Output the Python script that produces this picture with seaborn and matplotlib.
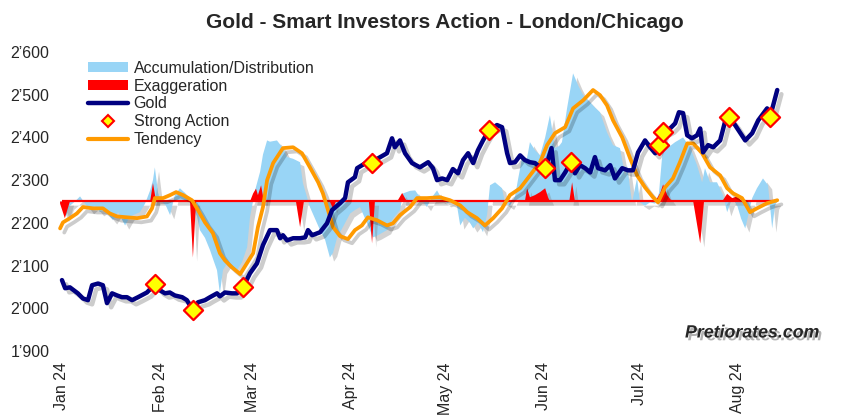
import numpy as np
import pandas as pd
import matplotlib
matplotlib.use("Agg")
import matplotlib.pyplot as plt
import matplotlib.dates as mdates
import matplotlib.patheffects as pe
from matplotlib.patches import Patch
from matplotlib.lines import Line2D
from matplotlib.ticker import FuncFormatter
import seaborn as sns

# ---------------- data (days since 2024-01-01, price level) ----------------
START = "2024-01-01"
BASELINE = 2250

gold_day = [0, 1, 2.5, 5, 6.6, 8.2, 9.5, 11.4, 12.9, 14.2,
            15.8, 17.4, 18.9, 20.5, 22.1, 24, 26.8, 28.4, 29.3, 30.9,
            32.5, 34, 35.6, 37.9, 39.4, 41.3, 42.9, 45.1, 46.7, 48.9,
            49.8, 51.4, 53.6, 55.2, 57.1, 59.3, 61.5, 63.4, 65.6, 67.8,
            68.8, 69.7, 71, 72.9, 75.1, 76.7, 77.6, 78.9, 81.4, 83.6,
            85.2, 87.7, 89.3, 90.2, 92.4, 93.1, 96.2, 97.8, 99.7, 102.5,
            104.1, 105, 106.6, 108.2, 110.4, 112.9, 115.5, 117, 118.3, 119.9,
            121.5, 123.3, 124.9, 126.5, 128.1, 129.7, 131.2, 132.8, 134.7, 137.2,
            138.8, 140.4, 141.3, 142.9, 144.5, 146, 147.6, 149.2, 150.8, 152.5,
            154.4, 155.5, 157.1, 158.7, 160.6, 161.8, 163.4, 165, 166.6, 168.1,
            169.1, 171.3, 172.9, 174.4, 176.7, 178.5, 180.1, 181.7, 183.9, 185.5,
            187.1, 188.3, 189.6, 191.8, 193.4, 194.6, 195.9, 197.2, 198.7, 200.3,
            201.3, 202.2, 203.8, 205.4, 207.6, 209.1, 210.4, 212.3, 215.5, 217.7,
            219.6, 222.4, 223.3, 225.6]
gold_value = [2066, 2047, 2049, 2035, 2023, 2019, 2054, 2058, 2054, 2012,
              2035, 2030, 2026, 2026, 2019, 2026, 2037, 2049, 2056, 2042,
              2035, 2037, 2030, 2026, 2019, 1995, 2014, 2019, 2026, 2035,
              2028, 2037, 2035, 2035, 2049, 2082, 2105, 2148, 2183, 2183,
              2164, 2171, 2159, 2164, 2164, 2166, 2183, 2171, 2178, 2199,
              2230, 2246, 2258, 2295, 2307, 2328, 2342, 2340, 2351, 2363,
              2398, 2377, 2393, 2363, 2340, 2330, 2342, 2328, 2300, 2304,
              2300, 2326, 2316, 2347, 2363, 2340, 2370, 2393, 2417, 2429,
              2424, 2363, 2340, 2342, 2358, 2347, 2342, 2340, 2330, 2328,
              2375, 2300, 2300, 2318, 2342, 2316, 2335, 2328, 2318, 2354,
              2328, 2323, 2335, 2304, 2328, 2323, 2323, 2365, 2393, 2377,
              2363, 2382, 2412, 2421, 2433, 2459, 2457, 2405, 2398, 2405,
              2421, 2365, 2382, 2377, 2393, 2436, 2447, 2429, 2393, 2410,
              2440, 2468, 2447, 2511]

strong_day = [29.3, 41.3, 57.1, 97.8, 134.7, 152.5, 160.6, 188.3, 189.6, 210.4, 223.3]
strong_value = [2056, 1995, 2049, 2340, 2417, 2328, 2342, 2382, 2412, 2447, 2447]

tend_day = [-0.6, 0.3, 2.5, 4.7, 6.6, 9.8, 12.9, 15.1, 17.4, 20.5,
            23.7, 26.8, 28.4, 29.3, 31.9, 34.1, 36, 38.2, 41, 42.9,
            45.1, 47.6, 49.8, 51.4, 53.6, 56.2, 60.3, 61.8, 63.4, 64.7,
            66.6, 69.7, 72.9, 75.7, 78.2, 80.8, 82.3, 83.9, 85.5, 87.7,
            90.2, 92.4, 94.6, 96.5, 99.4, 102.5, 104.4, 106.6, 109.8, 112,
            115.1, 119.2, 122.4, 125.6, 127.8, 130.9, 133.4, 136, 138.8, 141.3,
            144.5, 147.6, 150.8, 153, 155.5, 158.7, 161.2, 164.4, 167.5, 169.7,
            171.9, 173.8, 176.7, 179.2, 181.4, 183.9, 186.4, 188, 190.2, 192.7,
            194.9, 197.2, 199.1, 201.9, 204.4, 207.6, 209.8, 211.7, 214.5, 217,
            219.2, 222.4, 225.6]
tend_value = [2187, 2201, 2211, 2222, 2237, 2234, 2234, 2222, 2215, 2213,
              2211, 2215, 2234, 2258, 2258, 2265, 2272, 2265, 2253, 2230,
              2201, 2176, 2129, 2112, 2096, 2080, 2129, 2190, 2237, 2300,
              2340, 2375, 2377, 2363, 2330, 2295, 2269, 2230, 2190, 2169,
              2162, 2183, 2194, 2213, 2206, 2194, 2199, 2218, 2237, 2258,
              2258, 2260, 2253, 2241, 2225, 2211, 2194, 2211, 2234, 2265,
              2281, 2311, 2342, 2382, 2410, 2424, 2468, 2487, 2511, 2499,
              2475, 2440, 2400, 2351, 2311, 2283, 2260, 2248, 2283, 2304,
              2342, 2386, 2386, 2363, 2330, 2311, 2281, 2269, 2258, 2225,
              2234, 2246, 2253]

accum_day = [-0.6, 0.3, 1.3, 2.5, 4.1, 5.7, 7.3, 8.8, 10.4, 12,
             13.6, 15.1, 16.1, 17.7, 19.9, 21.5, 23, 24.6, 26.2, 27.8,
             28.7, 29.3, 30.3, 31.5, 32.8, 34.1, 35.6, 37.2, 38.8, 40.4,
             41.3, 42.6, 43.5, 45.1, 46.7, 47.9, 48.9, 49.8, 50.8, 52.1,
             53.6, 55.2, 56.8, 58.4, 59.3, 60.9, 62.5, 63.4, 64.7, 65.6,
             67.8, 69.7, 71, 72.9, 75.1, 76, 78.2, 79.8, 81.4, 83,
             84.5, 85.5, 86.8, 88.6, 90.9, 92.4, 94, 95.6, 98.1, 99.4,
             102.5, 104.4, 106.6, 107.6, 109.8, 111.4, 112.9, 115.1, 116.7, 118.3,
             119.9, 121.5, 123, 124.6, 125.6, 127.1, 128.7, 129.7, 131.2, 132.8,
             134.1, 135, 136.6, 138.8, 139.7, 141.3, 142.9, 143.8, 145.1, 146.4,
             147.6, 149.2, 150.8, 152.4, 153.9, 155.5, 156.8, 157.7, 159.3, 161.2,
             162.8, 164.4, 166.6, 168.1, 169.7, 171.9, 173.8, 176, 177.6, 178.2,
             179.8, 181.4, 182.3, 183.9, 185.5, 187.1, 188.3, 189.6, 191.8, 193.4,
             195.9, 198.1, 200.3, 201.9, 202.8, 204.4, 206.6, 208.5, 209.8, 211.4,
             213, 214.2, 215.5, 217.7, 219.2, 221.1, 222.7, 224, 224.9, 225.6]
accum_value = [2250, 2235, 2215, 2240, 2250, 2262, 2245, 2230, 2240, 2225,
               2232, 2215, 2206, 2225, 2194, 2215, 2220, 2225, 2245, 2276,
               2300, 2330, 2270, 2250, 2240, 2218, 2265, 2281, 2270, 2255,
               2235, 2215, 2183, 2165, 2136, 2110, 2089, 2035, 2090, 2105,
               2100, 2089, 2108, 2143, 2213, 2276, 2320, 2360, 2393, 2390,
               2393, 2375, 2354, 2350, 2342, 2293, 2237, 2210, 2183, 2160,
               2119, 2130, 2166, 2190, 2222, 2230, 2237, 2210, 2166, 2170,
               2183, 2210, 2230, 2269, 2275, 2276, 2260, 2237, 2260, 2276,
               2255, 2246, 2250, 2240, 2194, 2212, 2200, 2187, 2201, 2178,
               2220, 2288, 2295, 2281, 2248, 2240, 2262, 2300, 2351, 2340,
               2389, 2370, 2358, 2400, 2452, 2375, 2380, 2389, 2468, 2550,
               2522, 2499, 2482, 2470, 2459, 2412, 2382, 2375, 2311, 2335,
               2248, 2305, 2248, 2240, 2248, 2245, 2270, 2382, 2380, 2389,
               2400, 2377, 2335, 2295, 2328, 2295, 2295, 2265, 2225, 2258,
               2240, 2210, 2187, 2258, 2281, 2304, 2288, 2187, 2241, 2250]

exag_day = [-0.6, 0.9, 2.5, 27.8, 28.7, 29.7, 40.4, 41.3, 42.3, 59.3,
            60.3, 61.2, 61.8, 62.8, 63.7, 73.8, 75.1, 76.3, 84.5, 85.5,
            86.4, 96.8, 97.8, 98.7, 105.7, 107.3, 108.8, 146, 146.7, 147.6,
            149.2, 150.8, 152.4, 153.3, 153.9, 160, 160.9, 161.8, 187.1, 188.7,
            189.6, 190.9, 192.4, 199.1, 201.3, 202.5, 208.2, 209.8, 211.4, 213,
            214.5, 225.6]
exag_value = [2245, 2211, 2250, 2250, 2293, 2250, 2250, 2119, 2250, 2250,
              2269, 2280, 2265, 2288, 2250, 2250, 2190, 2250, 2250, 2232,
              2250, 2250, 2152, 2250, 2250, 2270, 2250, 2250, 2281, 2260,
              2265, 2272, 2281, 2260, 2250, 2250, 2295, 2250, 2250, 2270,
              2290, 2265, 2250, 2250, 2152, 2250, 2250, 2268, 2258, 2262,
              2250, 2250]

y_ticks = [1900, 2000, 2100, 2200, 2300, 2400, 2500, 2600]
title = "Gold - Smart Investors Action - London/Chicago"
legend_labels = ["Accumulation/Distribution", "Exaggeration", "Gold", "Strong Action", "Tendency"]

# ---------------- styling ----------------
C_BLUE = "#99d5f6"
C_RED = "#ff0000"
C_NAVY = "#000080"
C_ORANGE = "#ff9a00"
C_YELLOW = "#ffff00"

sns.set_style("white")
plt.rcParams["font.family"] = ["Liberation Sans", "DejaVu Sans"]

def to_dates(days):
    return pd.Timestamp(START) + pd.to_timedelta(np.asarray(days, dtype=float), unit="D")

gold_x = to_dates(gold_day)
strong_x = to_dates(strong_day)
tend_x = to_dates(tend_day)
accum_x = to_dates(accum_day)
exag_x = to_dates(exag_day)

W, H = 847, 418
fig = plt.figure(figsize=(W / 100, H / 100), dpi=100)
fig.patch.set_facecolor("white")
ax = fig.add_axes([55 / W, (H - 351) / H, 779 / W, 299 / H])

line_shadow = [pe.SimpleLineShadow(offset=(3, -3), shadow_color="black", alpha=0.2), pe.Normal()]
patch_shadow = [pe.SimplePatchShadow(offset=(3, -3), shadow_rgbFace="gray", alpha=0.35), pe.Normal()]

fb = ax.fill_between(accum_x, BASELINE, accum_value, color=C_BLUE, linewidth=0, zorder=1)
fb.set_path_effects(patch_shadow)
fr = ax.fill_between(exag_x, BASELINE, exag_value, color=C_RED, linewidth=0, zorder=2)
fr.set_path_effects(patch_shadow)

ax.hlines(BASELINE, gold_x[0], gold_x[-1], color=C_RED, linewidth=1.6, zorder=3)

sns.lineplot(x=tend_x, y=tend_value, ax=ax, color=C_ORANGE, linewidth=2.7, zorder=4,
             path_effects=line_shadow)
sns.lineplot(x=gold_x, y=gold_value, ax=ax, color=C_NAVY, linewidth=3.2, zorder=5,
             path_effects=line_shadow)
sns.scatterplot(x=strong_x, y=strong_value, ax=ax, marker="D", s=95, color=C_YELLOW,
                edgecolor=C_RED, linewidth=1.6, zorder=6)

# axes
ax.set_xlim(pd.Timestamp(START) - pd.Timedelta(days=2.2), pd.Timestamp(START) + pd.Timedelta(days=243.5))
ax.set_ylim(y_ticks[0], y_ticks[-1])
ax.set_yticks(y_ticks)
ax.yaxis.set_major_formatter(FuncFormatter(lambda v, p: f"{int(v) // 1000}\u2019{int(v) % 1000:03d}"))
ax.xaxis.set_major_locator(mdates.MonthLocator())
ax.xaxis.set_major_formatter(mdates.DateFormatter("%b %y"))
ax.tick_params(axis="x", length=0, pad=8, labelsize=11.5, labelrotation=90)
ax.tick_params(axis="y", length=0, pad=4, labelsize=11.5)
for s in ax.spines.values():
    s.set_visible(False)
ax.set_xlabel("")
ax.set_ylabel("")
ax.grid(False)

# legend
handles = [
    Patch(facecolor=C_BLUE, edgecolor="none"),
    Patch(facecolor=C_RED, edgecolor="none"),
    Line2D([], [], color=C_NAVY, linewidth=3.2),
    Line2D([], [], linestyle="none", marker="D", markersize=6.5, markerfacecolor=C_YELLOW,
           markeredgecolor=C_RED, markeredgewidth=1.5),
    Line2D([], [], color=C_ORANGE, linewidth=3.0),
]
leg = fig.legend(handles, legend_labels, loc="upper left", bbox_to_anchor=(88 / W, 1 - 61 / H),
                 bbox_transform=fig.transFigure, frameon=False, fontsize=11.5, handlelength=2.5,
                 handleheight=0.6, handletextpad=0.35, labelspacing=0.17, borderpad=0, borderaxespad=0)

fig.text(445 / W, 1 - 22 / H, title, ha="center", va="center", fontsize=15, fontweight="bold")

fig.text(752 / W, 1 - 333 / H, "Pretiorates.com", ha="center", va="center", fontsize=12.8,
         fontweight="bold", fontstyle="italic", family=["Liberation Sans", "DejaVu Sans"],
         path_effects=[pe.SimplePatchShadow(offset=(2, -2), shadow_rgbFace="gray", alpha=0.6), pe.Normal()])

fig.savefig("out.png", dpi=100)
